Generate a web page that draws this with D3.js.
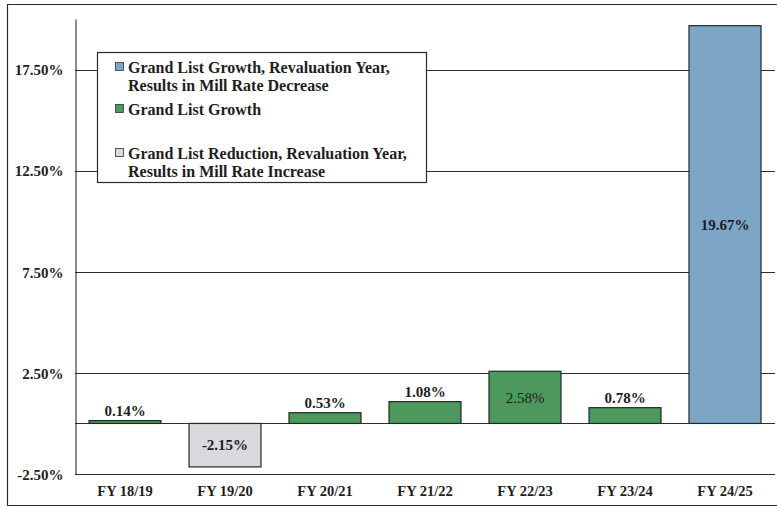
<!DOCTYPE html>
<html>
<head>
<meta charset="utf-8">
<script src="https://cdn.jsdelivr.net/npm/d3@7"></script>
<style>
  body { margin: 0; background: #fff; }
  text { font-family: "Liberation Serif", "Times New Roman", serif; font-weight: bold; fill: #1e1e1e; }
</style>
</head>
<body>
<svg id="chart" width="777" height="508"></svg>
<script>
// Grand list change by fiscal year
const categories = ["FY 18/19", "FY 19/20", "FY 20/21", "FY 21/22", "FY 22/23", "FY 23/24", "FY 24/25"];
const values = [0.14, -2.15, 0.53, 1.08, 2.58, 0.78, 19.67];
const kinds = ["growth", "reduction", "growth", "growth", "growth", "growth", "revaluation"];
const tickValues = [-2.5, 2.5, 7.5, 12.5, 17.5];
const legendItems = [
  { kind: "revaluation", lines: ["Grand List Growth, Revaluation Year,", "Results in Mill Rate Decrease"] },
  { kind: "growth", lines: ["Grand List Growth"] },
  { kind: "reduction", lines: ["Grand List Reduction, Revaluation Year,", "Results in Mill Rate Increase"] }
];

const colors = { revaluation: "#7da6c6", growth: "#4d985c", reduction: "#d7d9dc" };
const pct = d => (d < 0 ? "-" : "") + Math.abs(d).toFixed(2) + "%";

const svg = d3.select("#chart");
const margin = { left: 75, top: 19 };
const W = 777;

// outer frame
svg.append("path")
  .attr("d", `M${W},4.5 H7.5 V505.5 H${W}`)
  .attr("fill", "none").attr("stroke", "#2a2a2a").attr("stroke-width", 1.2);

const x = d3.scaleBand().domain(categories).range([margin.left, 775]).paddingInner(0.28).paddingOuter(0.14);
const y = d3.scaleLinear().domain([-2.5, 20]).range([474, margin.top]);

// gridlines
svg.append("g").selectAll("line").data(tickValues.concat([0])).join("line")
  .attr("x1", margin.left).attr("x2", 775)
  .attr("y1", d => Math.round(y(d)) + 0.5).attr("y2", d => Math.round(y(d)) + 0.5)
  .attr("stroke", "#2e2e2e").attr("stroke-width", 1.1);

// y axis
const yAxis = d3.axisLeft(y).tickValues(tickValues).tickSize(0).tickPadding(12).tickFormat(pct);
const gy = svg.append("g").attr("transform", `translate(${margin.left + 0.5},0)`).call(yAxis);
gy.select(".domain").attr("stroke", "#2e2e2e").attr("stroke-width", 1.1);
gy.selectAll("text").style("font-size", "15px").attr("fill", "#1e1e1e").attr("dy", "0.35em");

// x axis labels
const xAxis = d3.axisBottom(x).tickSize(0).tickPadding(12);
const gx = svg.append("g").attr("transform", `translate(0,${y(-2.5)})`).call(xAxis);
gx.select(".domain").remove();
gx.selectAll("text").style("font-size", "14.5px").attr("fill", "#1e1e1e");

// bars
svg.append("g").selectAll("rect").data(values).join("rect")
  .attr("x", (d, i) => x(categories[i]))
  .attr("width", x.bandwidth())
  .attr("y", d => y(Math.max(0, d)))
  .attr("height", d => Math.abs(y(d) - y(0)))
  .attr("fill", (d, i) => colors[kinds[i]])
  .attr("stroke", "#1d2b28").attr("stroke-width", 1.2);

// value labels: inside tall bars, above short ones
svg.append("g").selectAll("text").data(values).join("text")
  .attr("x", (d, i) => x(categories[i]) + x.bandwidth() / 2)
  .attr("y", d => {
    const h = Math.abs(y(d) - y(0));
    if (h > 40) return (y(d) + y(0)) / 2;
    return y(d) - 10;
  })
  .attr("dy", "0.35em")
  .attr("text-anchor", "middle")
  .style("font-size", "15px")
  .style("font-weight", (d, i) => i === 4 ? "normal" : "bold")
  .text(pct);

// legend
const lg = svg.append("g");
lg.append("rect").attr("x", 97.5).attr("y", 52.5).attr("width", 329).attr("height", 130)
  .attr("fill", "#fff").attr("stroke", "#2a2a2a").attr("stroke-width", 1.2);
const rowY = [67, 109, 153];
legendItems.forEach((item, i) => {
  lg.append("rect").attr("x", 115.5).attr("y", rowY[i] - 4.5).attr("width", 8).attr("height", 8)
    .attr("fill", colors[item.kind]).attr("stroke", "#333").attr("stroke-width", 0.8);
  item.lines.forEach((line, j) => {
    lg.append("text").attr("x", 128).attr("y", rowY[i] + j * 18).attr("dy", "0.35em")
      .style("font-size", "16px").text(line);
  });
});
</script>
</body>
</html>
